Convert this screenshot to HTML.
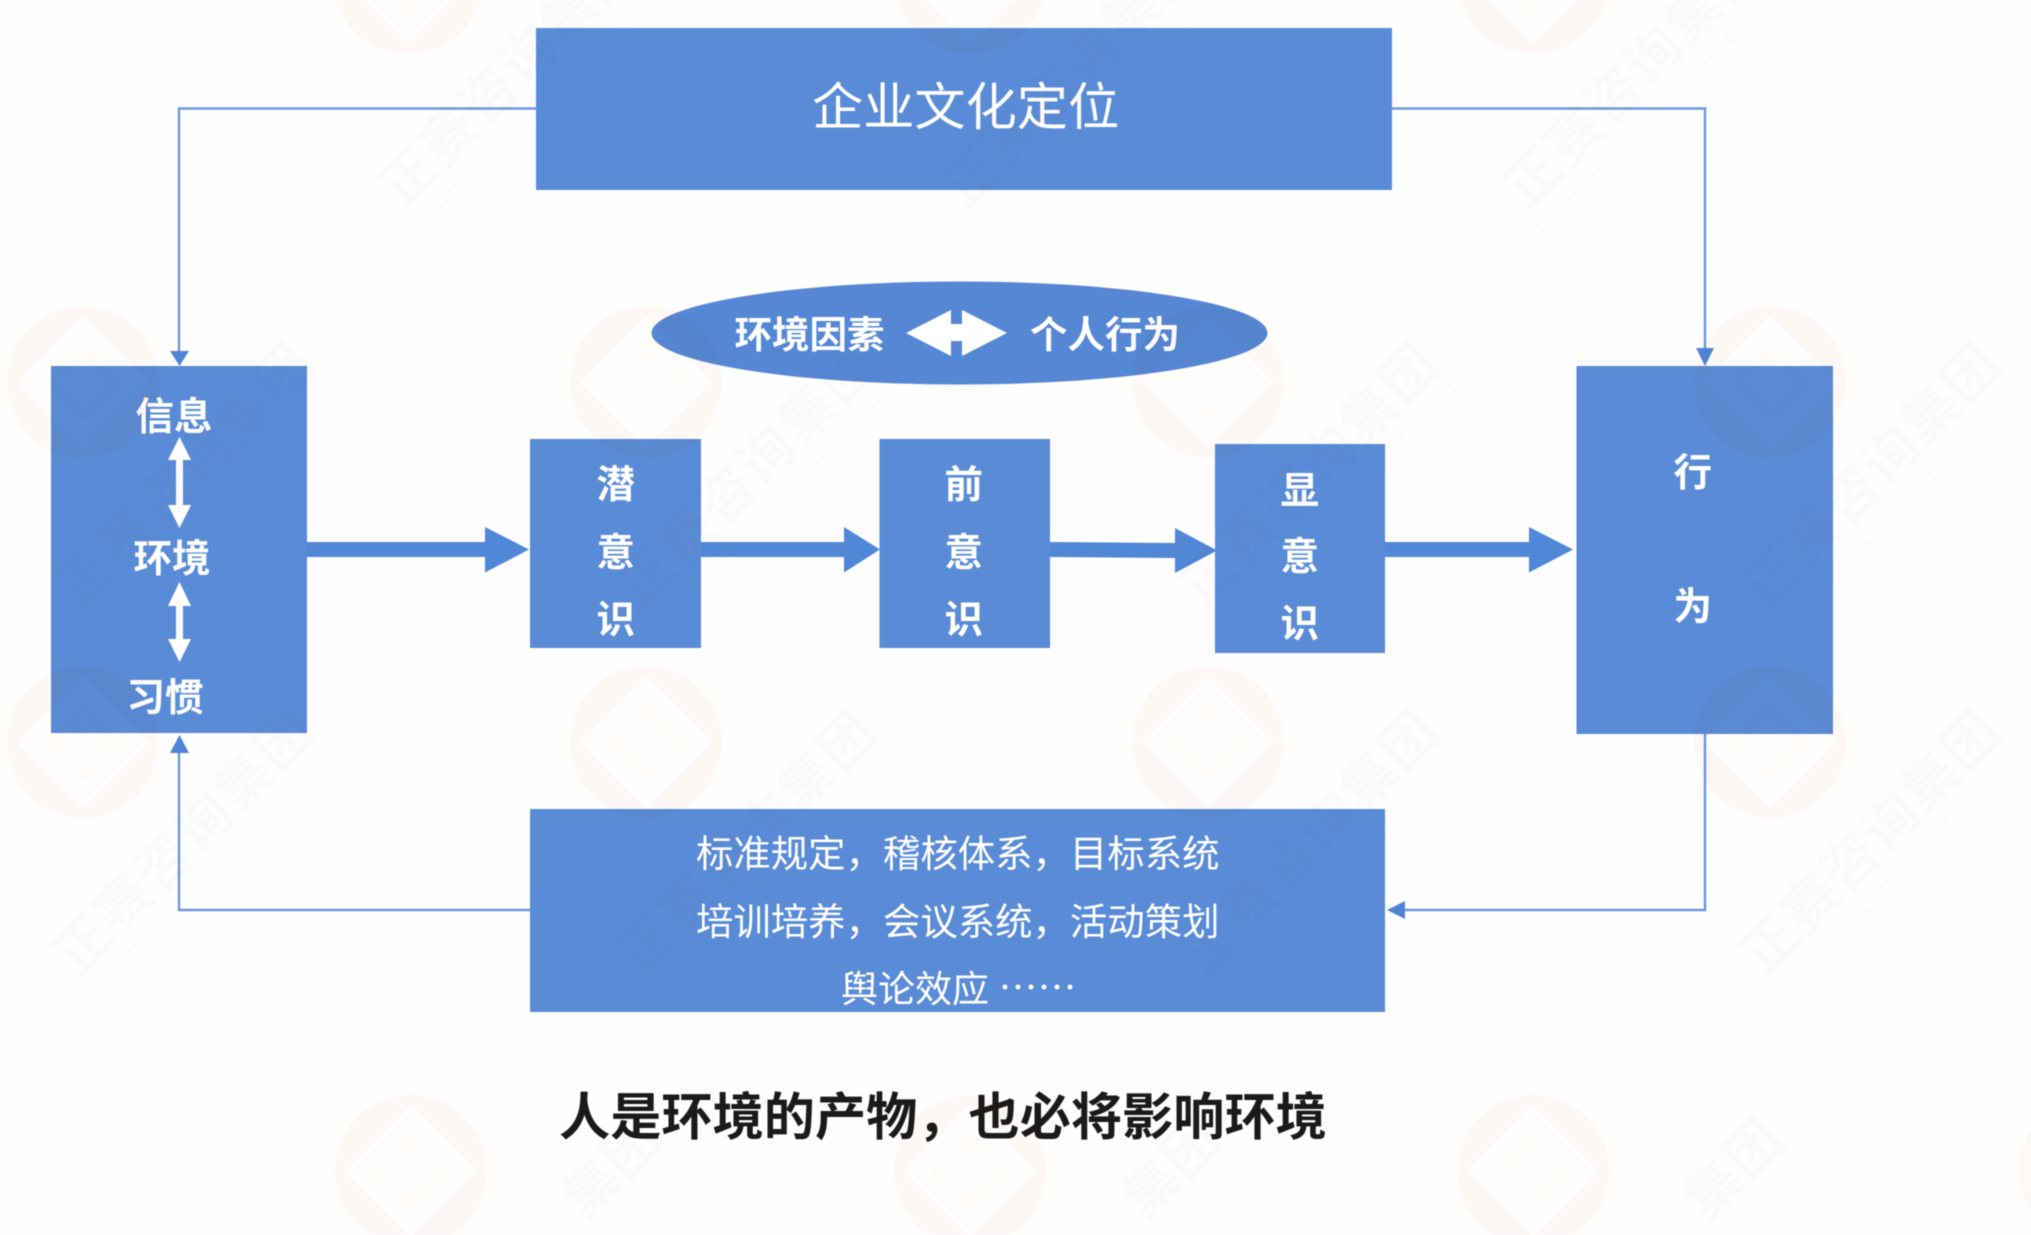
<!DOCTYPE html>
<html lang="zh-CN">
<head>
<meta charset="utf-8">
<title>企业文化定位</title>
<style>
html,body{margin:0;padding:0;background:#fff;width:2031px;height:1235px;overflow:hidden}
svg{display:block;position:absolute;left:0;top:0}
text{font-family:"Liberation Sans","Noto Sans CJK SC",sans-serif}
.zh{font-family:"Noto Sans CJK SC",sans-serif}
.b{font-weight:700}
.wm{font-family:"Noto Sans CJK SC",sans-serif;font-size:55px;font-weight:700;letter-spacing:2px;fill:#fbfbfb}
.we{font-family:"Liberation Sans",sans-serif;font-size:20px;fill:#fcfcfc}
</style>
</head>
<body>
<svg width="2031" height="1235" viewBox="0 0 2031 1235" xmlns="http://www.w3.org/2000/svg" style="filter:blur(.5px)">
<defs>
<g id="core">
<path d="M0-66L66 0L0 66L-66 0Z" fill="#fff"/>
<path d="M0-61L61 0L0 61L-61 0Z" fill="#fffefd"/>
<path d="M0-45L45 0L0 45L-45 0Z" fill="#fff"/>
<path d="M0-40L40 0L0 40L-40 0Z" fill="#fffcfa"/>
<path d="M0-26L26 0L0 26L-26 0Z" fill="#fff"/>
<path d="M0-22L22 0L0 22L-22 0Z" fill="#fffdfc"/>
</g>
<g id="logo">
<ellipse cx="0" cy="0" rx="76" ry="76" fill="#fef9f7"/>
<use href="#core"/>
</g>
<g id="logob">
<path d="M-41 64A76 76 0 1 1 41 64Z" fill="#fef9f7"/>
<path d="M0-66L66 0L2 64H-2L-66 0Z" fill="#fff"/>
<path d="M0-61L61 0L0 61L-61 0Z" fill="#fffefd"/>
<path d="M0-45L45 0L0 45L-45 0Z" fill="#fff"/>
<path d="M0-40L40 0L0 40L-40 0Z" fill="#fffcfa"/>
<path d="M0-26L26 0L0 26L-26 0Z" fill="#fff"/>
<path d="M0-22L22 0L0 22L-22 0Z" fill="#fffdfc"/>
</g>
</defs>
<rect width="2031" height="1235" fill="#fefefe"/>

<!-- connectors -->
<g fill="none" stroke="#6a98de" stroke-width="2.4">
<path d="M536 108.500H179V352"/>
<path d="M1392 108.500H1705V350"/>
<path d="M1705 734V910H1404"/>
<path d="M530 910H179V752"/>
</g>
<g fill="#4f85d4">
<path d="M170 351H189L179.500 366Z"/>
<path d="M1696 348H1714L1705 366Z"/>
<path d="M1387 910L1405 901V919Z"/>
<path d="M179.500 735L189 753H170Z"/>
</g>

<!-- boxes -->
<g fill="#5a8bd6">
<rect x="536" y="28" width="856" height="162"/>
<rect x="51" y="366" width="256" height="367"/>
<rect x="530" y="439" width="171" height="209"/>
<rect x="879.500" y="439" width="170.500" height="209"/>
<rect x="1215" y="444" width="170" height="209"/>
<rect x="1576.500" y="366" width="256.500" height="368"/>
<rect x="530" y="809" width="855" height="203"/>
</g>
<ellipse cx="959.500" cy="333" rx="308" ry="51.500" fill="#5587d5"/>

<!-- thick arrows -->
<g fill="#5087d6">
<path d="M307 542H485V527L529 549.500L485 572.500V557H307Z"/>
<path d="M701 542H844V527L880 549.500L844 572.500V557H701Z"/>
<path d="M1050 542L1175 543V528L1217 550.500L1175 573V558L1050 557Z"/>
<path d="M1385 542H1529V527L1573 549.500L1529 572.500V557H1385Z"/>
</g>

<!-- white arrows -->
<g fill="#fff">
<path d="M906 333L951 310V324H962V310L1007 333L962 356V341H951V356Z"/>
<path d="M179.500 437L191 460H183V505H191L179.500 528L168 505H176V460H168Z"/>
<path d="M179.500 582L191 606H183V639H191L179.500 662L168 639H176V606H168Z"/>
</g>

<!-- labels -->
<text class="zh" x="812" y="125" font-size="51.200" fill="#fff">企业文化定位</text>

<g class="zh b" font-size="38.500" font-weight="700" fill="#fff">
<text x="135.500" y="430" fill="#fff">信息</text>
<text x="133.500" y="572" fill="#fff">环境</text>
<text x="126.500" y="711" fill="#fff">习惯</text>
<text x="596.500" y="498" fill="#fff">潜</text>
<text x="596.500" y="566" fill="#fff">意</text>
<text x="596.500" y="633" fill="#fff">识</text>
<text x="944.500" y="498" fill="#fff">前</text>
<text x="944.500" y="566" fill="#fff">意</text>
<text x="944.500" y="633" fill="#fff">识</text>
<text x="1280.500" y="504" fill="#fff">显</text>
<text x="1280.500" y="570" fill="#fff">意</text>
<text x="1280.500" y="637" fill="#fff">识</text>
<text x="1673.500" y="486" fill="#fff">行</text>
<text x="1673.500" y="620" fill="#fff">为</text>
<text x="734.500" y="348" font-size="37.500" fill="#fff">环境因素</text>
<text x="1030" y="348" font-size="37.500" fill="#fff">个人行为</text>
</g>

<g class="zh" font-size="37.400" fill="#fff">
<text x="696" y="867" fill="#fff">标准规定，稽核体系，目标系统</text>
<text x="696" y="935" fill="#fff">培训培养，会议系统，活动策划</text>
<text x="841" y="1002" font-size="37" fill="#fff">舆论效应</text>
</g>
<g fill="#fff">
<circle cx="1005" cy="987" r="2.500"/><circle cx="1018" cy="987" r="2.500"/><circle cx="1031" cy="987" r="2.500"/>
<circle cx="1044" cy="987" r="2.500"/><circle cx="1057" cy="987" r="2.500"/><circle cx="1070" cy="987" r="2.500"/>
</g>

<text class="zh b" x="559" y="1135" font-size="51.200" font-weight="700" fill="#1a1a1a">人是环境的产物，也必将影响环境</text>

<!-- watermark overlay -->
<g style="mix-blend-mode:multiply">
<use href="#logo" x="408" y="-22"/><use href="#logo" x="970" y="-22"/><use href="#logo" x="1533" y="-22"/>
<use href="#logo" x="83" y="382"/><use href="#logo" x="646" y="382"/><use href="#logo" x="1208" y="382"/><use href="#logo" x="1770" y="382"/>
<use href="#logo" x="83" y="742"/><use href="#logo" x="646" y="742"/><use href="#logo" x="1208" y="742"/><use href="#logo" x="1770" y="742"/>
<use href="#logob" x="411" y="1171"/><use href="#logob" x="970" y="1171"/><use href="#logob" x="1533" y="1171"/>
<path d="M2031 1130A76 76 0 0 0 2031 1212Z" fill="#fef9f7"/>

<g transform="translate(403,210) rotate(-45.500)"><text class="wm">正赛咨询集团</text></g>
<g transform="translate(965,210) rotate(-45.500)"><text class="wm">正赛咨询集团</text></g>
<g transform="translate(1528,210) rotate(-45.500)"><text class="wm">正赛咨询集团</text></g>
<g transform="translate(78,610) rotate(-45.500)"><text class="wm">正赛咨询集团</text></g>
<g transform="translate(641,610) rotate(-45.500)"><text class="wm">正赛咨询集团</text></g>
<g transform="translate(1203,610) rotate(-45.500)"><text class="wm">正赛咨询集团</text></g>
<g transform="translate(1765,610) rotate(-45.500)"><text class="wm">正赛咨询集团</text></g>
<g transform="translate(78,977) rotate(-45.500)"><text class="wm">正赛咨询集团</text></g>
<g transform="translate(641,977) rotate(-45.500)"><text class="wm">正赛咨询集团</text></g>
<g transform="translate(1203,977) rotate(-45.500)"><text class="wm">正赛咨询集团</text></g>
<g transform="translate(1765,977) rotate(-45.500)"><text class="wm">正赛咨询集团</text></g>
<g transform="translate(585,1222) rotate(-45.500)"><text class="wm">集团</text></g>
<g transform="translate(1145,1222) rotate(-45.500)"><text class="wm">集团</text></g>
<g transform="translate(1708,1222) rotate(-45.500)"><text class="wm">集团</text></g>

<g transform="translate(418,235) rotate(-45)"><text class="we" textLength="350">G SHINE CONSULTING GROUP</text></g>
<g transform="translate(980,235) rotate(-45)"><text class="we" textLength="350">G SHINE CONSULTING GROUP</text></g>
<g transform="translate(1543,235) rotate(-45)"><text class="we" textLength="350">G SHINE CONSULTING GROUP</text></g>
<g transform="translate(93,635) rotate(-45)"><text class="we" textLength="350">G SHINE CONSULTING GROUP</text></g>
<g transform="translate(656,635) rotate(-45)"><text class="we" textLength="350">G SHINE CONSULTING GROUP</text></g>
<g transform="translate(1218,635) rotate(-45)"><text class="we" textLength="350">G SHINE CONSULTING GROUP</text></g>
<g transform="translate(1780,635) rotate(-45)"><text class="we" textLength="350">G SHINE CONSULTING GROUP</text></g>
<g transform="translate(93,1002) rotate(-45)"><text class="we" textLength="350">G SHINE CONSULTING GROUP</text></g>
<g transform="translate(656,1002) rotate(-45)"><text class="we" textLength="350">G SHINE CONSULTING GROUP</text></g>
<g transform="translate(1218,1002) rotate(-45)"><text class="we" textLength="350">G SHINE CONSULTING GROUP</text></g>
<g transform="translate(1780,1002) rotate(-45)"><text class="we" textLength="350">G SHINE CONSULTING GROUP</text></g>
</g>
</svg>
</body>
</html>
